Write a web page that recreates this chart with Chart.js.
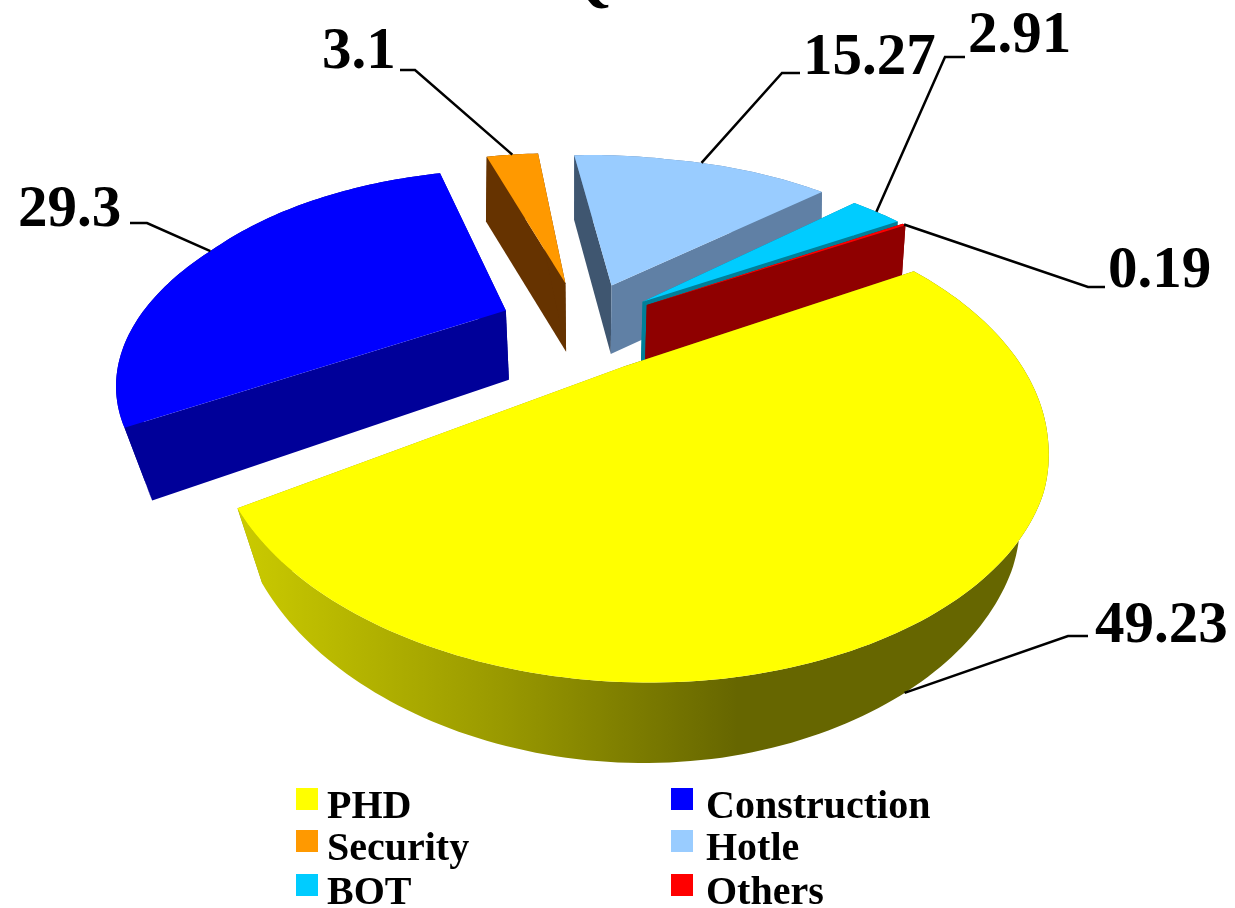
<!DOCTYPE html>
<html>
<head>
<meta charset="utf-8">
<style>
    html, body { margin: 0; padding: 0; background: #fff; }
    canvas { display: block; }
</style>
<script src="https://cdn.jsdelivr.net/npm/chart.js@4"></script>
</head>
<body>
<canvas id="pie" width="1235" height="908"></canvas>
<script>
const categories = ['PHD', 'Construction', 'Security', 'Hotle', 'BOT', 'Others'];
const shares = [49.23, 29.3, 3.1, 15.27, 2.91, 0.19];
const valueTexts = ['49.23', '29.3', '3.1', '15.27', '2.91', '0.19'];

const topColors = ['#FFFF00', '#0000FF', '#FF9900', '#99CCFF', '#00CCFF', '#FF0000'];
// cut faces: [start edge, end edge], outer wall
const faceColors = [
    ['#666600', '#999900'], ['#000099', '#000099'], ['#663300', '#663300'],
    ['#3F5670', '#6080A5'], ['#007F99', '#007F99'], ['#8F0000', '#8F0000']
];
const wallColors = ['#999900', '#000099', '#663300', '#6080A5', '#007F99', '#8F0000'];

// camera for the tilted disc
const view = { x0: 588, y0: 327, a: 364, b: 190, k: 0.3, shear: 24 };

// ===== PROJECTION =====
function project(el, rho, theta) {
    const R = el.outerRadius;
    const mid = (el.startAngle + el.endAngle) / 2;
    const off = (el.options.offset || 0) / R;
    const u = off * Math.cos(mid) + rho * Math.cos(theta);
    const v = off * Math.sin(mid) + rho * Math.sin(theta);
    const s = 1 / (1 - view.k * v);
    // the original is not a clean perspective, its left front sits further out
    const w = u <= 0.2 ? 1 : u >= 1 ? 0.2 : 1 - (u - 0.2);
    const dx = -view.shear * Math.min(0.9, Math.max(0, v + 0.4)) * w;
    const dy = -7 * Math.max(0, 0.3 - u);
    return { x: view.x0 + view.a * u * s + dx, y: view.y0 + view.b * v * s + dy, v: v };
}

function lower(p) {
    const f = 1 - 0.04 * (1 + p.v);
    return { x: view.x0 + (p.x - view.x0) * f, y: p.y * 1.03 + 60 };
}

function arcPoints(el) {
    const pts = [];
    const n = Math.max(2, Math.ceil((el.endAngle - el.startAngle) / 0.02));
    for (let i = 0; i <= n; i++) {
        pts.push(project(el, 1, el.startAngle + (el.endAngle - el.startAngle) * i / n));
    }
    return pts;
}

function fillPoly(ctx, pts, color) {
    ctx.beginPath();
    pts.forEach((p, i) => i ? ctx.lineTo(p.x, p.y) : ctx.moveTo(p.x, p.y));
    ctx.closePath();
    ctx.fillStyle = color;
    ctx.fill();
}

function phdWall(ctx) {
    const g = ctx.createLinearGradient(232, 0, 1047, 0);
    g.addColorStop(0, '#CCCC00');
    g.addColorStop(0.33, '#999900');
    g.addColorStop(0.62, '#666600');
    g.addColorStop(1, '#666600');
    return g;
}

// ===== SLICES =====
const pie3d = {
    id: 'pie3d',
    beforeDatasetsDraw(chart) {
        const ctx = chart.ctx;
        const arcs = chart.getDatasetMeta(0).data;
        [1, 2, 3, 4, 5, 0].forEach(i => {
            const el = arcs[i];
            const apex = project(el, 0, 0);
            const pts = arcPoints(el);
            const first = pts[0];
            const last = pts[pts.length - 1];
            const faces = () => {
                fillPoly(ctx, [apex, first, lower(first), lower(apex)], faceColors[i][0]);
                fillPoly(ctx, [apex, last, lower(last), lower(apex)], faceColors[i][1]);
            };
            // PHD faces look away from us, the back slices' faces look towards us
            if (i === 0) faces();
            fillPoly(ctx, pts.concat(pts.map(lower).reverse()), i === 0 ? phdWall(ctx) : wallColors[i]);
            if (i !== 0) faces();
            fillPoly(ctx, [apex].concat(pts), el.options.backgroundColor);
        });
        return false;
    }
};

// ===== TEXT AND LEADERS =====
const leaders = [
    { text: [1095, 642], elbow: [[1088, 636], [1068, 636]], lowerEnd: true },
    { text: [18, 226], elbow: [[130, 223], [147, 223]] },
    { text: [322, 68], elbow: [[400, 70], [415, 70]] },
    { text: [803, 74], elbow: [[800, 73], [782, 73]] },
    { text: [968, 52], elbow: [[965, 57], [945, 57]] },
    { text: [1108, 287], elbow: [[1105, 287], [1088, 287]] }
];
const legendCells = [[296, 788], [671, 788], [296, 830], [671, 830], [296, 874], [671, 874]];

const annotations = {
    id: 'annotations',
    afterDraw(chart) {
        const ctx = chart.ctx;
        const arcs = chart.getDatasetMeta(0).data;
        ctx.save();
        ctx.textBaseline = 'alphabetic';
        ctx.textAlign = 'left';
        ctx.fillStyle = '#000';
        ctx.strokeStyle = '#000';
        ctx.lineWidth = 2.5;

        // title, cut off by the top edge
        ctx.font = 'bold 59px "Liberation Serif"';
        ctx.fillText('Q', 565, -1);

        leaders.forEach((l, i) => {
            const el = arcs[i];
            let end = project(el, 1, (el.startAngle + el.endAngle) / 2);
            if (l.lowerEnd) end = lower(end);
            ctx.beginPath();
            ctx.moveTo(l.elbow[0][0], l.elbow[0][1]);
            ctx.lineTo(l.elbow[1][0], l.elbow[1][1]);
            ctx.lineTo(end.x, end.y);
            ctx.stroke();
            ctx.fillText(valueTexts[i], l.text[0], l.text[1]);
        });

        ctx.font = 'bold 40px "Liberation Serif"';
        categories.forEach((c, i) => {
            const [x, y] = legendCells[i];
            ctx.fillStyle = topColors[i];
            ctx.fillRect(x, y, 22, 22);
            ctx.fillStyle = '#000';
            ctx.fillText(c, x + (i % 2 ? 35 : 31), y + 30);
        });
        ctx.restore();
    }
};

new Chart(document.getElementById('pie'), {
    type: 'pie',
    data: {
        labels: categories,
        datasets: [{
            data: shares,
            backgroundColor: topColors,
            borderWidth: 0,
            offset: [97, 89, 97, 97, 89, 89]
        }]
    },
    options: {
        responsive: false,
        animation: false,
        rotation: 58.5,
        plugins: { legend: { display: false }, tooltip: { enabled: false } }
    },
    plugins: [pie3d, annotations]
});
</script>
</body>
</html>
